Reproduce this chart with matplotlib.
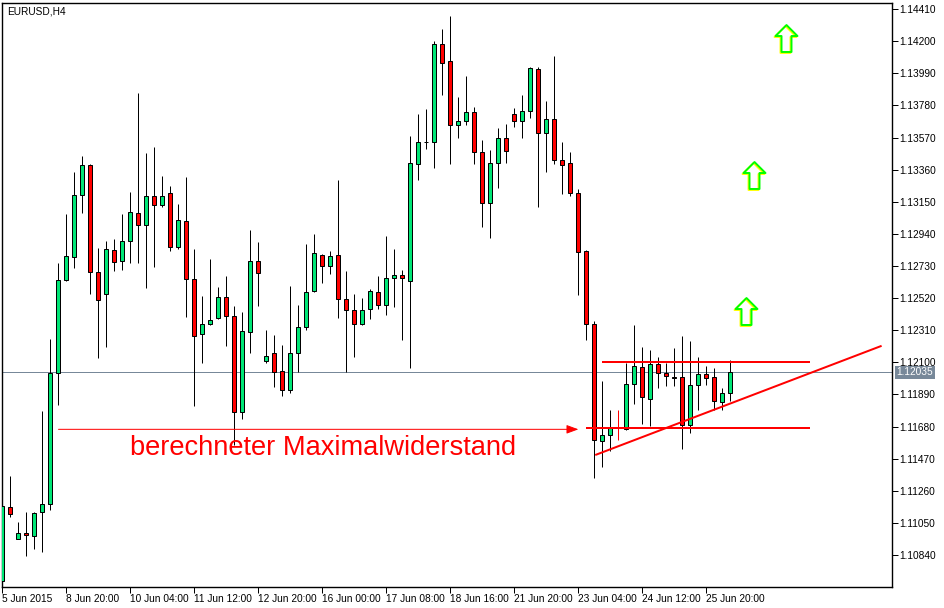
import matplotlib
matplotlib.use('Agg')
import matplotlib.pyplot as plt
from matplotlib.path import Path
from matplotlib.transforms import offset_copy, blended_transform_factory
import numpy as np

# ---------------- data (EURUSD H4) ----------------
opens = [1.10670, 1.11154, 1.10945, 1.10984, 1.10966, 1.11121, 1.11176, 1.12028, 1.12636, 1.12786,
         1.13192, 1.13390, 1.12688, 1.12545, 1.12832, 1.12760, 1.12891, 1.13074, 1.12996, 1.13185,
         1.13126, 1.13205, 1.12852, 1.13022, 1.12643, 1.12283, 1.12348, 1.12388, 1.12525, 1.12401,
         1.11773, 1.12296, 1.12760, 1.12106, 1.12159, 1.12041, 1.11917, 1.12159, 1.12329, 1.12564,
         1.12800, 1.12728, 1.12800, 1.12512, 1.12440, 1.12348, 1.12446, 1.12558, 1.12473, 1.12649,
         1.12669, 1.12630, 1.13395, 1.13538, 1.13538, 1.14179, 1.14068, 1.13650, 1.13676, 1.13735,
         1.13473, 1.13140, 1.13401, 1.13565, 1.13721, 1.13676, 1.13741, 1.14016, 1.13597, 1.13689,
         1.13421, 1.13401, 1.13205, 1.12826, 1.12348, 1.11583, 1.11623, 1.11670, 1.11662, 1.11956,
         1.12067, 1.11858, 1.12087, 1.12028, 1.12004, 1.12002, 1.11688, 1.11950, 1.12021, 1.12002,
         1.11838, 1.11897]
highs = [1.11167, 1.11357, 1.11056, 1.11121, 1.11119, 1.11782, 1.12252, 1.12751, 1.13070, 1.13344,
         1.13449, 1.13397, 1.12845, 1.12891, 1.12906, 1.13070, 1.13213, 1.13861, 1.13468, 1.13508,
         1.13318, 1.13253, 1.13135, 1.13312, 1.12839, 1.12531, 1.12773, 1.12590, 1.12662, 1.12468,
         1.12427, 1.12963, 1.12885, 1.12311, 1.12276, 1.12211, 1.12597, 1.12473, 1.12871, 1.12937,
         1.12806, 1.12826, 1.13292, 1.12695, 1.12545, 1.12518, 1.12577, 1.12662, 1.12924, 1.12839,
         1.12701, 1.13580, 1.13723, 1.13756, 1.14199, 1.14277, 1.14364, 1.13833, 1.13972, 1.13767,
         1.13551, 1.13486, 1.13632, 1.13656, 1.13761, 1.13846, 1.14033, 1.14029, 1.13806, 1.14101,
         1.13538, 1.13473, 1.13231, 1.12834, 1.12368, 1.11980, 1.11790, 1.11790, 1.12093, 1.12344,
         1.12198, 1.12178, 1.12133, 1.12093, 1.12192, 1.12272, 1.12237, 1.12133, 1.12076, 1.12061,
         1.11930, 1.12113]
lows = [1.10644, 1.11088, 1.10942, 1.10833, 1.10879, 1.10860, 1.11134, 1.11823, 1.12634, 1.12718,
        1.13078, 1.12548, 1.12130, 1.12202, 1.12699, 1.12705, 1.12751, 1.12751, 1.12588, 1.12725,
        1.13113, 1.12830, 1.12839, 1.12398, 1.11814, 1.12097, 1.12347, 1.12381, 1.12208, 1.11559,
        1.11731, 1.12163, 1.12470, 1.12093, 1.11940, 1.11882, 1.11897, 1.12035, 1.12309, 1.12560,
        1.12616, 1.12675, 1.12388, 1.12038, 1.12137, 1.12342, 1.12381, 1.12446, 1.12407, 1.12460,
        1.12244, 1.12061, 1.13294, 1.13497, 1.13372, 1.13850, 1.13395, 1.13569, 1.13650, 1.13395,
        1.12987, 1.12915, 1.13242, 1.13401, 1.13636, 1.13569, 1.13695, 1.13113, 1.13342, 1.13395,
        1.13202, 1.13189, 1.12542, 1.12244, 1.11341, 1.11417, 1.11518, 1.11590, 1.11655, 1.11825,
        1.11695, 1.11681, 1.11930, 1.11943, 1.11943, 1.11531, 1.11636, 1.11786, 1.11950, 1.11786,
        1.11786, 1.11845]
closes = [1.11160, 1.11108, 1.10984, 1.10969, 1.11117, 1.11176, 1.12028, 1.12638, 1.12793, 1.13192,
          1.13390, 1.12688, 1.12505, 1.12839, 1.12754, 1.12891, 1.13081, 1.12996, 1.13185, 1.13126,
          1.13185, 1.12852, 1.13028, 1.12643, 1.12270, 1.12348, 1.12375, 1.12525, 1.12401, 1.11773,
          1.12303, 1.12760, 1.12682, 1.12139, 1.12035, 1.11917, 1.12159, 1.12329, 1.12558, 1.12813,
          1.12728, 1.12793, 1.12512, 1.12440, 1.12348, 1.12440, 1.12564, 1.12473, 1.12649, 1.12669,
          1.12649, 1.13401, 1.13538, 1.13540, 1.14179, 1.14055, 1.13650, 1.13676, 1.13735, 1.13473,
          1.13140, 1.13401, 1.13565, 1.13480, 1.13676, 1.13741, 1.14022, 1.13597, 1.13689, 1.13421,
          1.13388, 1.13205, 1.12819, 1.12348, 1.11590, 1.11623, 1.11668, 1.11670, 1.11956, 1.12076,
          1.11871, 1.12087, 1.12028, 1.12008, 1.12000, 1.11688, 1.11950, 1.12021, 1.11995, 1.11845,
          1.11897, 1.12035]

x_tick_bars = [0, 8, 16, 24, 32, 40, 48, 56, 64, 72, 80, 88]
x_tick_labels = ["5 Jun 2015", "8 Jun 20:00", "10 Jun 04:00", "11 Jun 12:00", "12 Jun 20:00",
                 "16 Jun 00:00", "17 Jun 08:00", "18 Jun 16:00", "21 Jun 20:00", "23 Jun 04:00",
                 "24 Jun 12:00", "25 Jun 20:00"]
y_ticks = [1.10840, 1.11050, 1.11260, 1.11470, 1.11680, 1.11890, 1.12100, 1.12310, 1.12520,
           1.12730, 1.12940, 1.13150, 1.13360, 1.13570, 1.13780, 1.13990, 1.14200, 1.14410]

current_price = 1.12035
symbol_title = "EURUSD,H4"

# drawn objects
resist_top_price = 1.12100
resist_top_bars = [75, 101]
resist_bot_price = 1.11672
resist_bot_bars = [73, 101]
trend_bars = [74.1, 109.9]
trend_prices = [1.11494, 1.12208]
arrow_line_price = 1.11662
arrow_line_bars = [7, 72]
label_text = "berechneter Maximalwiderstand"
label_bar = 16
label_price = 1.11494
up_arrow_bars = [98, 94, 93]
up_arrow_prices = [1.14220, 1.13325, 1.12435]

# ---------------- figure ----------------
W, H = 945, 608
fig = plt.figure(figsize=(W / 100, H / 100), dpi=100)
fig.patch.set_facecolor('white')
ax = fig.add_axes([2.5 / W, 21 / H, (892 - 2.5) / W, (587 - 2.5) / H])
ax.set_facecolor('white')

n = len(opens)
xs = np.arange(n)
o = np.array(opens); c = np.array(closes); hi = np.array(highs); lo = np.array(lows)

PX = 0.72  # one pixel in points
GREEN = '#00E676'
RED = '#FF0000'

# current price line
ax.axhline(current_price, color='#778899', lw=PX, zorder=1)

# wicks
wick_colors = [RED if o[i] == c[i] else 'black' for i in range(n)]
ax.vlines(xs, lo, hi, colors=wick_colors, lw=PX, zorder=2)

# bodies
mask = o != c
bot = np.minimum(o, c)
hgt = np.abs(c - o)
cols = np.where(c > o, GREEN, RED)
ax.bar(xs[mask], hgt[mask], bottom=bot[mask], width=0.5, color=cols[mask],
       edgecolor='black', linewidth=PX, zorder=3)

# resistance lines
ax.plot(resist_top_bars, [resist_top_price] * 2, color=RED, lw=2 * PX, zorder=4,
        solid_capstyle='butt')
ax.plot(resist_bot_bars, [resist_bot_price] * 2, color=RED, lw=2 * PX, zorder=4,
        solid_capstyle='butt')
ax.plot(trend_bars, trend_prices, color=RED, lw=2 * PX, zorder=4, solid_capstyle='butt')

# arrow line
ax.annotate('', xy=(arrow_line_bars[1], arrow_line_price),
            xytext=(arrow_line_bars[0], arrow_line_price),
            arrowprops=dict(arrowstyle='-|>,head_length=0.6,head_width=0.22', color=RED,
                            lw=PX, shrinkA=0, shrinkB=0, mutation_scale=12), zorder=4)

ax.text(label_bar, label_price, label_text, color=RED, fontsize=19.6,
        family=['Liberation Sans', 'DejaVu Sans'], ha='left', va='baseline', zorder=5)

# up arrows (hollow block arrows)
verts = [(0, 13.5), (11, 2.5), (5, 2.5), (5, -13.5), (-5, -13.5), (-5, 2.5), (-11, 2.5), (0, 13.5)]
codes = [Path.MOVETO] + [Path.LINETO] * 6 + [Path.CLOSEPOLY]
arrow_path = Path(verts, codes)
shadow_tr = offset_copy(ax.transData, fig=fig, x=-1, y=-1, units='dots')
ax.plot(up_arrow_bars, up_arrow_prices, ls='none', marker=arrow_path, markersize=19.4,
        markerfacecolor='none', markeredgecolor='#FFFF00', markeredgewidth=1.4,
        transform=shadow_tr, zorder=5)
ax.plot(up_arrow_bars, up_arrow_prices, ls='none', marker=arrow_path, markersize=19.4,
        markerfacecolor='none', markeredgecolor='#00FF00', markeredgewidth=1.4, zorder=6)

# axes limits
ax.set_xlim(0.025, 111.2)
ax.set_ylim(1.10631, 1.14453)

for s in ax.spines.values():
    s.set_color('black'); s.set_linewidth(PX * 1.4)

tick_font = dict(family=['Liberation Sans', 'DejaVu Sans'], size=7.3)
ax.yaxis.tick_right()
ax.set_yticks(y_ticks)
ax.set_yticklabels([f"{v:.5f}" for v in y_ticks], **tick_font)
ax.tick_params(axis='y', direction='out', length=4, width=PX, pad=1, colors='black')
ax.set_xticks(x_tick_bars)
ax.set_xticklabels(x_tick_labels, ha='left', **tick_font)
ax.tick_params(axis='x', direction='out', length=4, width=PX, pad=1, colors='black')

# price label on the axis
tr = blended_transform_factory(ax.transAxes, ax.transData)
ax.annotate(f"{current_price:.5f}", xy=(1, current_price), xycoords=tr,
            xytext=(3.2, 0), textcoords='offset points', ha='left', va='center',
            color='white', annotation_clip=False, **tick_font,
            bbox=dict(boxstyle='square,pad=0.15', facecolor='#778899', edgecolor='none'))

ax.text(0.005, 0.993, symbol_title, transform=ax.transAxes, ha='left', va='top',
        color='black', **tick_font)

fig.savefig('out.png', dpi=100)
